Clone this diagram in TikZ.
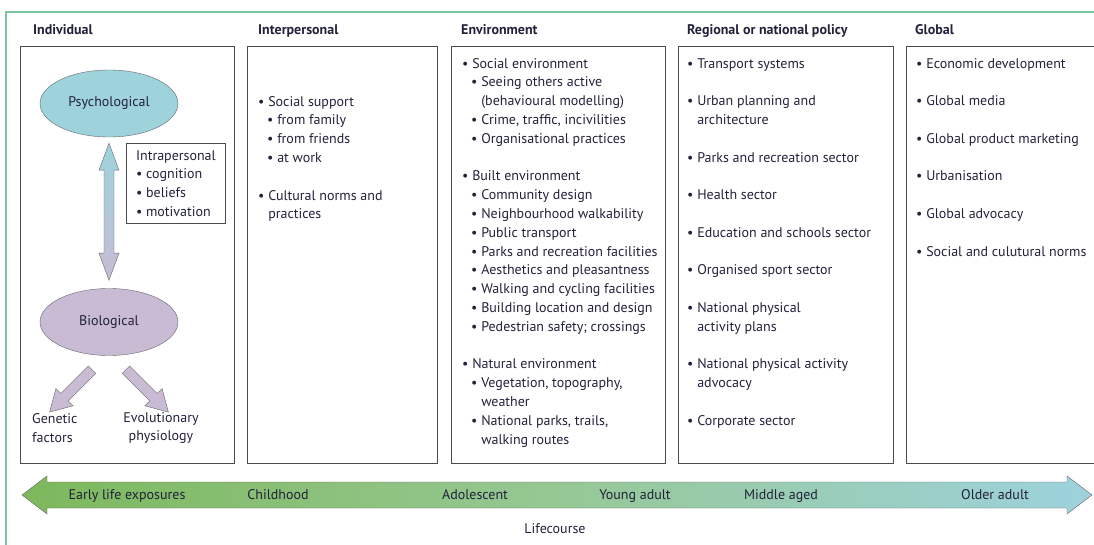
\documentclass[tikz,border=0pt]{standalone}
\usepackage{fontspec}
\setmainfont{PT Sans}
\usetikzlibrary{shapes.geometric,shapes.arrows,calc}

\definecolor{framegreen}{RGB}{125,197,160}
\definecolor{inktext}{RGB}{34,34,58}
\definecolor{psychfill}{RGB}{158,211,220}
\definecolor{biofill}{RGB}{201,187,212}
\definecolor{lifegreen}{RGB}{125,184,92}
\definecolor{lifemid}{RGB}{150,200,148}
\definecolor{lifeblue}{RGB}{157,210,222}

\newcommand{\bitem}{\textbullet\ }
\newcommand{\bsub}{\hspace*{9pt}\textbullet\ }
\newcommand{\bcont}{\hspace*{9pt}\phantom{\textbullet\ }}
\newcommand{\bgap}{\\[18.8pt]}

\tikzset{
  colbox/.style={draw=black!70, line width=0.9pt, minimum height=417pt, anchor=north west, inner sep=0},
  colhead/.style={font=\fontsize{14}{16}\bfseries\selectfont, anchor=base west, inner sep=0},
  coltext/.style={align=left, anchor=north west, inner sep=0},
  blob/.style={ellipse, draw=black!60, minimum width=138pt, minimum height=67pt},
  fatarrow/.style={single arrow, draw=black!60, fill=biofill, inner sep=5pt, minimum height=60pt,
    single arrow head extend=7pt, single arrow tip angle=60},
  lifelabel/.style={inner sep=0, anchor=base}
}

\begin{document}
\begin{tikzpicture}[x=1pt, y=-1pt, font=\fontsize{14}{18.8}\selectfont, text=inktext]
  \useasboundingbox (0,0) rectangle (1094,545);
  % outer frame
  \draw[framegreen, line width=1.2pt] (6,545) -- (6,12) -- (1094,12);

  % columns
  \node[colbox, minimum width=214pt] (indbox) at (20,46) {};
  \node[colbox, minimum width=190pt] (intbox) at (247,46) {};
  \node[colbox, minimum width=214pt] (envbox) at (451,46) {};
  \node[colbox, minimum width=215pt] (regbox) at (678,46) {};
  \node[colbox, minimum width=195pt] (globbox) at (906,46) {};

  \node[colhead] (indhead) at ($(indbox.north west)+(13,-11)$) {Individual};
  \node[colhead] (inthead) at ($(intbox.north west)+(11,-11)$) {Interpersonal};
  \node[colhead] (envhead) at ($(envbox.north west)+(10,-11)$) {Environment};
  \node[colhead] (reghead) at ($(regbox.north west)+(9,-11)$) {Regional or national policy};
  \node[colhead] (globhead) at ($(globbox.north west)+(9,-11)$) {Global};

  % individual
  \node[blob, fill=psychfill] (psych) at (109,103.5) {Psychological};
  \node[blob, fill=biofill] (bio) at (109,322) {Biological};
  \path[draw=black!60, top color=psychfill, bottom color=biofill, middle color=psychfill!55!biofill]
    ($(psych.south)+(0,6)$) -- ++(10,27) -- ++(-5,0) -- ++(0,83) -- ++(5,0) -- ++(-10,27)
    -- ++(-10,-27) -- ++(5,0) -- ++(0,-83) -- ++(-5,0) -- cycle;
  \node[draw=black!70, line width=0.8pt, align=left, anchor=north west, inner xsep=7pt, inner ysep=7pt,
    minimum width=99pt] (intra) at (126,143)
    {Intrapersonal\\\bitem cognition\\\bitem beliefs\\\bitem motivation};
  \node[fatarrow, rotate=-135] (togene) at ($(bio.south)+(-35,32)$) {};
  \node[fatarrow, rotate=-45] (toevol) at ($(bio.south)+(35,32)$) {};
  \node[align=left, anchor=west, inner sep=0] (gene) at (32,428) {Genetic\\factors};
  \node[align=center, inner sep=0] (evol) at (161,428) {Evolutionary\\physiology};

  % interpersonal
  \node[coltext] (inttext) at ($(intbox.north west)+(11,50)$) {%
    \bitem Social support\\
    \bsub from family\\
    \bsub from friends\\
    \bsub at work\bgap
    \bitem Cultural norms and\\
    \phantom{\textbullet\ }practices};

  % environment
  \node[coltext] (envtext) at ($(envbox.north west)+(11,12)$) {%
    \bitem Social environment\\
    \bsub Seeing others active\\
    \bcont (behavioural modelling)\\
    \bsub Crime, traffic, incivilities\\
    \bsub Organisational practices\bgap
    \bitem Built environment\\
    \bsub Community design\\
    \bsub Neighbourhood walkability\\
    \bsub Public transport\\
    \bsub Parks and recreation facilities\\
    \bsub Aesthetics and pleasantness\\
    \bsub Walking and cycling facilities\\
    \bsub Building location and design\\
    \bsub Pedestrian safety; crossings\bgap
    \bitem Natural environment\\
    \bsub Vegetation, topography,\\
    \bcont weather\\
    \bsub National parks, trails,\\
    \bcont walking routes};

  % regional or national policy
  \node[coltext] (regtext) at ($(regbox.north west)+(9,12)$) {%
    \bitem Transport systems\bgap
    \bitem Urban planning and\\
    \phantom{\textbullet\ }architecture\bgap
    \bitem Parks and recreation sector\bgap
    \bitem Health sector\bgap
    \bitem Education and schools sector\bgap
    \bitem Organised sport sector\bgap
    \bitem National physical\\
    \phantom{\textbullet\ }activity plans\bgap
    \bitem National physical activity\\
    \phantom{\textbullet\ }advocacy\bgap
    \bitem Corporate sector};

  % global
  \node[coltext] (globtext) at ($(globbox.north west)+(10,12)$) {%
    \bitem Economic development\bgap
    \bitem Global media\bgap
    \bitem Global product marketing\bgap
    \bitem Urbanisation\bgap
    \bitem Global advocacy\bgap
    \bitem Social and culutural norms};

  % lifecourse arrow
  \path[draw=black!60, left color=lifegreen, right color=lifeblue, middle color=lifemid]
    (22,495) -- (47,476) -- (47,482) -- (1067,482) -- (1067,476) -- (1092,495)
    -- (1067,514) -- (1067,508) -- (47,508) -- (47,514) -- cycle;
  \foreach \lab/\x [count=\i] in {Early life exposures/127, Childhood/278, Adolescent/475,
      Young adult/635, Middle aged/781, Older adult/995}
    \node[lifelabel] (age\i) at (\x,499.5) {\lab};
  \node[lifelabel] (lifecourse) at (555,533) {Lifecourse};
\end{tikzpicture}
\end{document}
